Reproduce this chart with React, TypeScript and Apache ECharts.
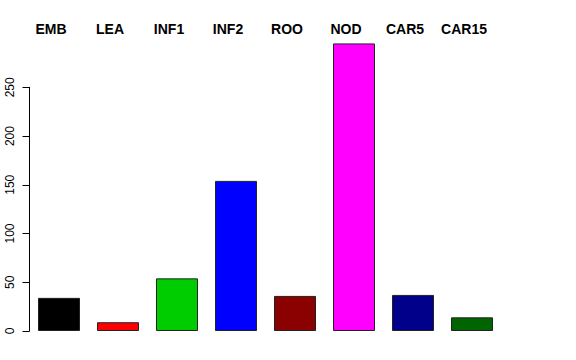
import React, { useEffect, useRef } from "react";
import * as echarts from "echarts";

const categories = ["EMB", "LEA", "INF1", "INF2", "ROO", "NOD", "CAR5", "CAR15"];
const values = [34, 9, 54, 154, 36, 295, 37, 14];
const colors = ["#000000", "#FF0000", "#00CD00", "#0000FF", "#8B0000", "#FF00FF", "#00008B", "#006400"];
const yTicks = [0, 50, 100, 150, 200, 250];

export default function App() {
  const ref = useRef<HTMLDivElement>(null);
  useEffect(() => {
    if (!ref.current) return;
    const chart = echarts.init(ref.current, null, { renderer: "svg" });
    chart.setOption({
      animation: false,
      backgroundColor: "#ffffff",
      textStyle: { fontFamily: "Liberation Sans, Arial, sans-serif" },
      grid: { left: 29.5, right: 74.5, top: 87.3, bottom: 29, containLabel: false },
      xAxis: {
        type: "category",
        position: "top",
        data: categories,
        axisLine: { show: false },
        axisTick: { show: false },
        splitLine: { show: false },
        axisLabel: {
          margin: 51,
          fontSize: 14,
          fontWeight: "bold",
          color: "#000",
          padding: [0, 16, 0, 0],
          interval: 0,
        },
      },
      yAxis: {
        type: "value",
        min: yTicks[0],
        max: yTicks[yTicks.length - 1],
        interval: 50,
        splitLine: { show: false },
        axisLine: { show: true, lineStyle: { color: "#000", width: 1 } },
        axisTick: { show: true, length: 7, lineStyle: { color: "#000" } },
        axisLabel: { rotate: 90, fontSize: 12, color: "#000", margin: 14 },
      },
      series: [
        {
          type: "bar",
          clip: false,
          barWidth: 42,
          data: values.map((v, i) => ({
            value: v,
            itemStyle: { color: colors[i], borderColor: "#222", borderWidth: 1 },
          })),
        },
      ],
    });
    return () => chart.dispose();
  }, []);
  return (
    <div
      ref={ref}
      style={{ position: "absolute", left: 0, top: 0, width: 576, height: 360 }}
    />
  );
}
